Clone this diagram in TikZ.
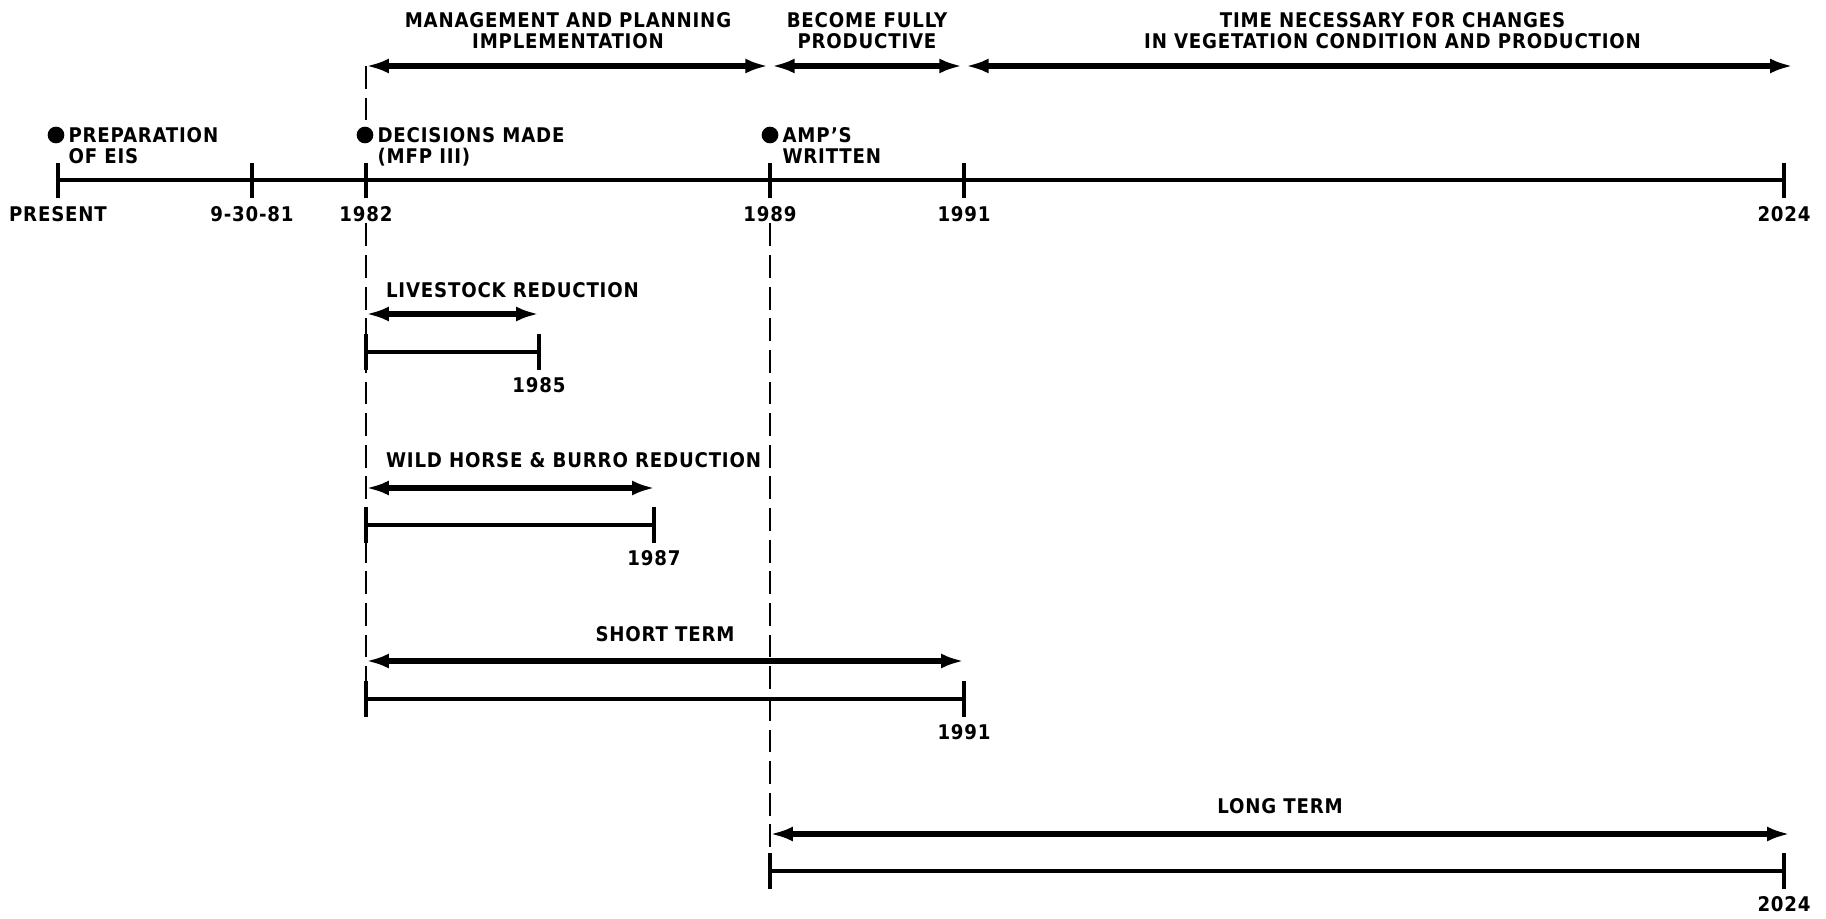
\documentclass[tikz,border=0pt]{standalone}
\usepackage{fontspec}
\setmainfont[LetterSpace=4]{DejaVu Sans Condensed}
\usetikzlibrary{arrows.meta,positioning}

\begin{document}
\begin{tikzpicture}[
    x=0.02cm, y=-0.02cm,
    every node/.style={align=center, inner sep=1pt,
        font=\bfseries\fontsize{11.5}{12}\selectfont},
    axis/.style={line width=2.5pt},
    tick/.style={line width=2.5pt},
    span/.style={line width=2.9pt,
        {Latex[length=13pt,width=8.5pt]}-{Latex[length=13pt,width=8.5pt]}},
    guide/.style={line width=1.5pt, dash pattern=on 13pt off 5pt},
    event/.style={circle, fill=black, inner sep=0pt, minimum size=9.5pt}
]
\useasboundingbox (0,0) rectangle (1826,919);

% main time line
\coordinate (present) at (58,180);
\coordinate (sept81) at (252,180);
\coordinate (y82) at (366,180);
\coordinate (y89) at (770,180);
\coordinate (y91) at (964,180);
\coordinate (y24) at (1784,180);

\draw[axis] (present) -- (y24);
\foreach \c in {present,sept81,y82,y89,y91,y24}
    \draw[tick] (\c) ++(0,-17) -- ++(0,35);

\node[below=0.48cm of present] (lpresent) {PRESENT};
\node[below=0.48cm of sept81] (lsept81) {9-30-81};
\node[below=0.48cm of y82] (ly82) {1982};
\node[below=0.48cm of y89] (ly89) {1989};
\node[below=0.48cm of y91] (ly91) {1991};
\node[below=0.48cm of y24] (ly24) {2024};

% events
\node[event] (dprep) at (56,135) {};
\node[event] (ddec) at (365,135) {};
\node[event] (damp) at (770,135) {};
\node[anchor=north west, align=left] (tprep) at ([xshift=1pt, yshift=0.2cm]dprep.east) {PREPARATION\\OF EIS};
\node[anchor=north west, align=left] (tdec) at ([xshift=1pt, yshift=0.2cm]ddec.east) {DECISIONS MADE\\(MFP III)};
\node[anchor=north west, align=left] (tamp) at ([xshift=1pt, yshift=0.2cm]damp.east) {AMP'S\\WRITTEN};

% phases above the line
\coordinate (mp-left) at (366,66);
\coordinate (mp-right) at (770,66);
\coordinate (bf-right) at (964,66);
\coordinate (tn-right) at (1793,66);

\draw[span, shorten >=1pt] (mp-left) -- node[midway, above=0.26cm] (tmp) {MANAGEMENT AND PLANNING\\IMPLEMENTATION} (mp-right);
\draw[span, shorten <=1pt, shorten >=1pt] (mp-right) -- node[midway, above=0.26cm] (tbf) {BECOME FULLY\\PRODUCTIVE} (bf-right);
\draw[span, shorten <=1pt] (bf-right) -- node[pos=0.517, above=0.26cm] (ttn) {TIME NECESSARY FOR CHANGES\\IN VEGETATION CONDITION AND PRODUCTION} (tn-right);

% livestock reduction
\coordinate (live-a) at (366,314);
\coordinate (live-b) at (539,314);
\coordinate (livebar-a) at (366,352);
\coordinate (livebar-b) at (539,352);
\node[anchor=west] (tlive) at (384,290) {LIVESTOCK REDUCTION};
\draw[span] (live-a) -- (live-b);
\draw[axis] (livebar-a) -- (livebar-b);
\foreach \c in {livebar-a,livebar-b}
    \draw[tick] (\c) ++(0,-18) -- ++(0,36);
\node[below=0.46cm of livebar-b] (l1985) {1985};

% wild horse and burro reduction
\coordinate (horse-a) at (366,488);
\coordinate (horse-b) at (655,488);
\coordinate (horsebar-a) at (366,525);
\coordinate (horsebar-b) at (654,525);
\node[anchor=west] (thorse) at (384,460) {WILD HORSE \& BURRO REDUCTION};
\draw[span] (horse-a) -- (horse-b);
\draw[axis] (horsebar-a) -- (horsebar-b);
\foreach \c in {horsebar-a,horsebar-b}
    \draw[tick] (\c) ++(0,-18) -- ++(0,36);
\node[below=0.46cm of horsebar-b] (l1987) {1987};

% short term
\coordinate (short-a) at (366,661);
\coordinate (short-b) at (964,661);
\coordinate (shortbar-a) at (366,699);
\coordinate (shortbar-b) at (964,699);
\draw[span] (short-a) -- node[midway, above=0.3cm] (tshort) {SHORT TERM} (short-b);
\draw[axis] (shortbar-a) -- (shortbar-b);
\foreach \c in {shortbar-a,shortbar-b}
    \draw[tick] (\c) ++(0,-18) -- ++(0,36);
\node[below=0.46cm of shortbar-b] (l1991) {1991};

% long term
\coordinate (long-a) at (770,834);
\coordinate (long-b) at (1790,834);
\coordinate (longbar-a) at (770,871);
\coordinate (longbar-b) at (1784,871);
\draw[span] (long-a) -- node[midway, above=0.32cm] (tlong) {LONG TERM} (long-b);
\draw[axis] (longbar-a) -- (longbar-b);
\foreach \c in {longbar-a,longbar-b}
    \draw[tick] (\c) ++(0,-18) -- ++(0,36);
\node[below=0.46cm of longbar-b] (l2024) {2024};

% guide lines
\draw[guide] (mp-left) -- (mp-left |- ddec.north);
\draw[guide] (ly82.south) -- ([yshift=-0.36cm]shortbar-a);
\draw[guide] (ly89.south) -- ([yshift=-0.36cm]longbar-a);
\end{tikzpicture}
\end{document}
